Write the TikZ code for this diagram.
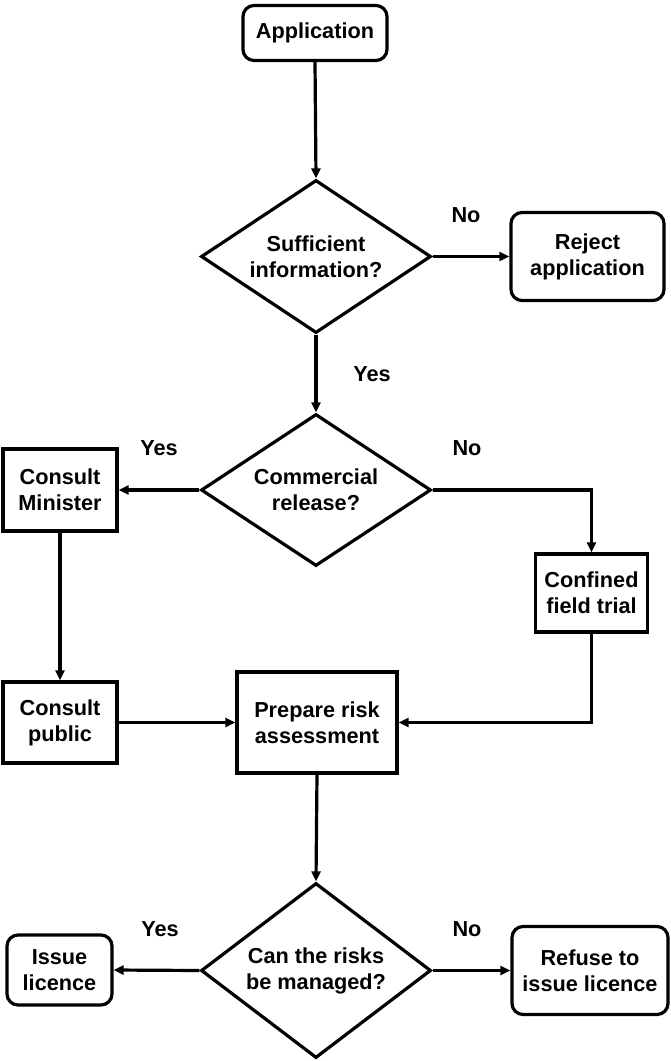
\documentclass[tikz,border=0pt]{standalone}
\usepackage{fontspec}
\setmainfont{Liberation Sans}
\usetikzlibrary{shapes.geometric,arrows.meta}
\begin{document}
\begin{tikzpicture}[x=1pt,y=-1pt,
  every node/.style={font=\bfseries\fontsize{21.7}{26}\selectfont, align=center, inner sep=0pt},
  rbox/.style={draw, line width=3.2pt, rounded corners=11pt},
  sbox/.style={draw, line width=3.2pt},
  dec/.style={draw, line width=3.2pt, diamond, shape aspect=1.5, minimum width=230pt},
  lbl/.style={},
  conn/.style={line width=3.2pt, -{Triangle[length=10pt,width=9pt]}}
]
\useasboundingbox (0,0) rectangle (670,1061);
\node[rbox, minimum width=144pt, minimum height=55pt] (app) at (315,33) {Application};
\node[dec, minimum height=153pt] (d1) at (316,256.5) {Sufficient\\information?};
\node[rbox, minimum width=153pt, minimum height=88pt] (rej) at (587.5,256.5) {Reject\\application};
\node[dec, minimum height=152pt] (d2) at (316,490) {Commercial\\release?};
\node[sbox, minimum width=114pt, minimum height=82pt] (min) at (60,490) {Consult\\Minister};
\node[sbox, minimum width=112pt, minimum height=78pt] (conf) at (591.5,593) {Confined\\field trial};
\node[sbox, minimum width=114pt, minimum height=81pt] (pub) at (60,722.5) {Consult\\public};
\node[sbox, minimum width=160pt, minimum height=101pt] (prep) at (317,722.5) {Prepare risk\\assessment};
\node[dec, minimum height=175pt] (d3) at (316,970.5) {Can the risks\\be managed?};
\node[rbox, minimum width=105pt, minimum height=70pt] (iss) at (59.5,970) {Issue\\licence};
\node[rbox, minimum width=156pt, minimum height=88pt] (ref) at (590,970.5) {Refuse to\\issue licence};

\node[lbl] (l1) at (466,215) {No};
\node[lbl] (l2) at (372,374) {Yes};
\node[lbl] (l3) at (159,448) {Yes};
\node[lbl] (l4) at (467,448) {No};
\node[lbl] (l5) at (160,929) {Yes};
\node[lbl] (l6) at (467,929) {No};

\draw[conn] (app.south) -- (d1.north);
\draw[conn] (d1.east) -- (rej.west);
\draw[conn] (d1.south) -- (d2.north);
\draw[conn] (d2.west) -- (min.east);
\draw[conn] (d2.east) -| (conf.north);
\draw[conn] (min.south) -- (pub.north);
\draw[conn] (pub.east) -- (prep.west);
\draw[conn] (conf.south) |- (prep.east);
\draw[conn] (prep.south) -- (d3.north);
\draw[conn] (d3.west) -- (iss.east);
\draw[conn] (d3.east) -- (ref.west);
\end{tikzpicture}
\end{document}
